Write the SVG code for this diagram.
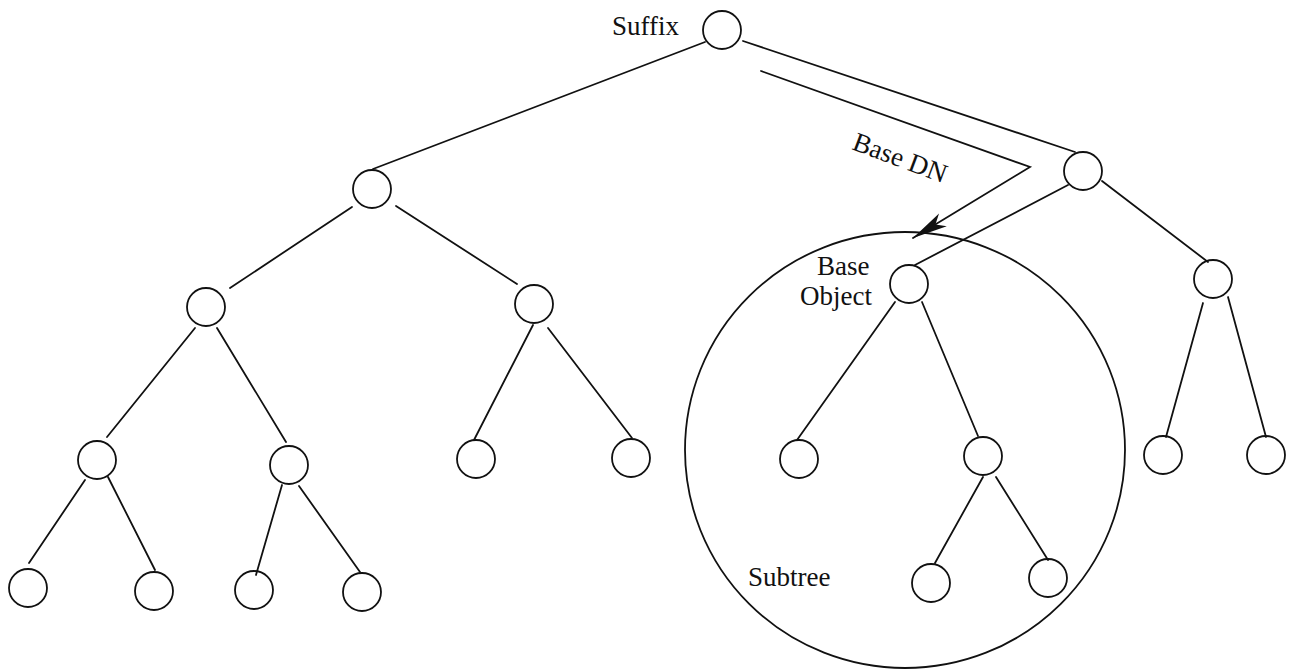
<svg xmlns="http://www.w3.org/2000/svg" width="1290" height="670" viewBox="0 0 1290 670">
<style>
.n{fill:none;stroke:#111;stroke-width:1.8}
.e{fill:none;stroke:#111;stroke-width:1.8;stroke-linecap:round}
.t{font-family:"Liberation Serif","Times New Roman",serif;font-size:27px;fill:#111}
</style>
<defs>
<marker id="ah" markerUnits="userSpaceOnUse" markerWidth="40" markerHeight="20" viewBox="-30 -8 32 16" refX="0" refY="0" orient="auto">
<path d="M0,0 L-28,-6 L-21,0 L-28,6 Z" fill="#111"/>
</marker>
</defs>
<rect width="1290" height="670" fill="#fff"/>
<g id="connectors">
<line class="e" x1="705" y1="42" x2="373" y2="169"/>
<line class="e" x1="743" y1="41" x2="1075" y2="152"/>
<line class="e" x1="352" y1="207" x2="230" y2="288"/>
<line class="e" x1="396" y1="206" x2="517" y2="284"/>
<line class="e" x1="195" y1="328" x2="107" y2="437"/>
<line class="e" x1="217" y1="328" x2="286" y2="442"/>
<line class="e" x1="85" y1="480" x2="29" y2="563"/>
<line class="e" x1="108" y1="477" x2="155" y2="570"/>
<line class="e" x1="282" y1="485" x2="256" y2="575"/>
<line class="e" x1="299" y1="486" x2="360" y2="572"/>
<line class="e" x1="533" y1="325" x2="474" y2="440"/>
<line class="e" x1="548" y1="328" x2="632" y2="438"/>
<line class="e" x1="1068" y1="185" x2="915" y2="265"/>
<line class="e" x1="1102" y1="181" x2="1208" y2="262"/>
<line class="e" x1="895" y1="302" x2="797" y2="440"/>
<line class="e" x1="922" y1="302" x2="978" y2="436"/>
<line class="e" x1="983" y1="477" x2="935" y2="563"/>
<line class="e" x1="996" y1="477" x2="1048" y2="560"/>
<line class="e" x1="1203" y1="303" x2="1166" y2="437"/>
<line class="e" x1="1228" y1="297" x2="1266" y2="437"/>
<polyline id="base-dn-arrow" class="e" points="761,71 1030,167 913,238" marker-end="url(#ah)"/>
</g>
<g id="subtree-region"><ellipse class="n" cx="905" cy="450" rx="220" ry="218"/></g>
<g id="root"><circle class="n" cx="722" cy="30" r="19"/></g>
<g id="n1l"><circle class="n" cx="372" cy="189" r="19"/></g>
<g id="n1r"><circle class="n" cx="1083" cy="171" r="19"/></g>
<g id="n2a"><circle class="n" cx="206" cy="307" r="19"/></g>
<g id="n2b"><circle class="n" cx="534" cy="304" r="19"/></g>
<g id="base-object"><circle class="n" cx="909" cy="284" r="19"/></g>
<g id="n2d"><circle class="n" cx="1213" cy="279" r="19"/></g>
<g id="n3a"><circle class="n" cx="97" cy="460" r="19"/></g>
<g id="n3b"><circle class="n" cx="289" cy="465" r="19"/></g>
<g id="n3c"><circle class="n" cx="476" cy="459" r="19"/></g>
<g id="n3d"><circle class="n" cx="631" cy="458" r="19"/></g>
<g id="n3e"><circle class="n" cx="799" cy="459" r="19"/></g>
<g id="n3f"><circle class="n" cx="983" cy="456" r="19"/></g>
<g id="n3g"><circle class="n" cx="1163" cy="455" r="19"/></g>
<g id="n3h"><circle class="n" cx="1266" cy="455" r="19"/></g>
<g id="n4a"><circle class="n" cx="28" cy="588" r="19"/></g>
<g id="n4b"><circle class="n" cx="154" cy="591" r="19"/></g>
<g id="n4c"><circle class="n" cx="254" cy="590" r="19"/></g>
<g id="n4d"><circle class="n" cx="362" cy="592" r="19"/></g>
<g id="n4e"><circle class="n" cx="931" cy="583" r="19"/></g>
<g id="n4f"><circle class="n" cx="1048" cy="578" r="19"/></g>
<g id="labels">
<text class="t" x="612" y="35">Suffix</text>
<text class="t" x="817" y="275">Base</text>
<text class="t" x="800" y="305">Object</text>
<text class="t" x="748" y="586">Subtree</text>
<text class="t" transform="translate(851,149) rotate(20.5)">Base DN</text>
</g>
</svg>
